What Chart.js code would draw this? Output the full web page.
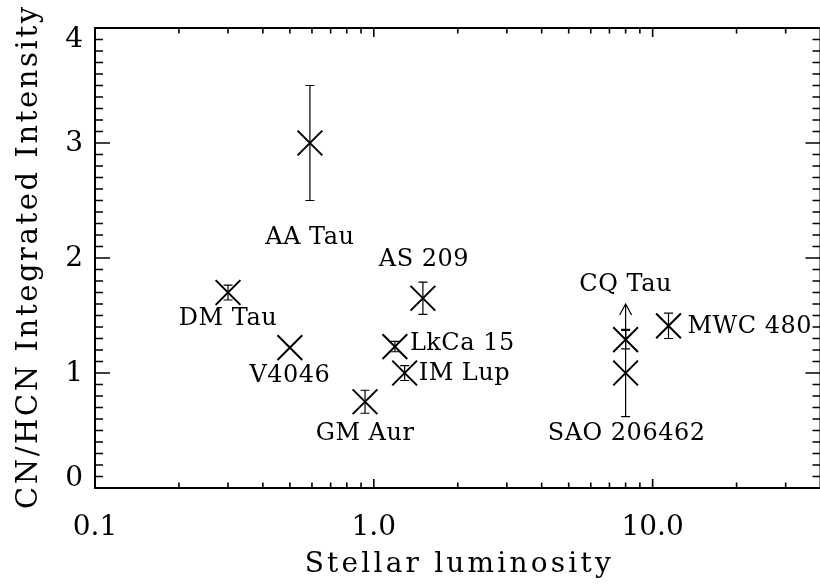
<!DOCTYPE html>
<html>
<head>
<meta charset="utf-8">
<script src="https://cdn.jsdelivr.net/npm/chart.js@4"></script>
<style>
  html, body { margin: 0; padding: 0; background: #fff; overflow: hidden; }
  #wrap { width: 840px; height: 586px; }
</style>
</head>
<body>
<div id="wrap"><canvas id="chart" width="840" height="586"></canvas></div>
<script>
// Sources
const sources    = ['DM Tau', 'V4046', 'AA Tau', 'GM Aur', 'LkCa 15', 'IM Lup', 'AS 209', 'SAO 206462', 'CQ Tau', 'MWC 480'];
const luminosity = [0.30, 0.50, 0.59, 0.93, 1.19, 1.29, 1.50, 8.0, 8.0, 11.4];
const cnHcn      = [1.70, 1.22, 3.00, 0.75, 1.23, 1.00, 1.65, 1.00, 1.29, 1.41];
const cnHcnErr   = [0.065, 0, 0.50, 0.10, 0.045, 0.065, 0.14, 0.38, 0.08, 0.11];
// lower limit arrow (CQ Tau)
const limitArrowTo = [null, null, null, null, null, null, null, null, 1.60, null];

const xTickValues = [0.1, 1, 10];
const xTickLabels = ['0.1', '1.0', '10.0'];
const xMinorTicks = [0.2, 0.3, 0.4, 0.5, 0.6, 0.7, 0.8, 0.9, 2, 3, 4, 5, 6, 7, 8, 9, 20, 30];
const yTickValues = [0, 1, 2, 3, 4];
const yTickLabels = ['0', '1', '2', '3', '4'];
const xTitle = 'Stellar luminosity';
const yTitle = 'CN/HCN Integrated Intensity';

// where each name sits relative to its marker (pixels)
const labelPlace = {
  'DM Tau':     { dx: 0,  dy: 26,  align: 'center' },
  'V4046':      { dx: 0,  dy: 28,  align: 'center' },
  'AA Tau':     { dx: 0,  dy: 95,  align: 'center' },
  'GM Aur':     { dx: 0,  dy: 32,  align: 'center' },
  'LkCa 15':    { dx: 15, dy: -3,  align: 'left' },
  'IM Lup':     { dx: 14, dy: 1,   align: 'left' },
  'AS 209':     { dx: 1,  dy: -38, align: 'center' },
  'SAO 206462': { dx: 1,  dy: 61,  align: 'center' },
  'CQ Tau':     { dx: 0,  dy: -55, align: 'center' },
  'MWC 480':    { dx: 19, dy: 1,   align: 'left' }
};

const serif = '"DejaVu Serif", "Liberation Serif", serif';

// box with inward ticks on all four sides, y labels and axis titles
const framePlugin = {
  id: 'frame',
  afterDraw(chart) {
    const { ctx, chartArea: a, scales: { x, y } } = chart;
    ctx.save();
    ctx.strokeStyle = '#000';
    ctx.lineWidth = 2;
    ctx.strokeRect(a.left, a.top, a.right - a.left, a.bottom - a.top);
    ctx.lineWidth = 1.6;
    ctx.beginPath();
    const xTick = (v, len) => {
      const px = x.getPixelForValue(v);
      ctx.moveTo(px, a.bottom); ctx.lineTo(px, a.bottom - len);
      ctx.moveTo(px, a.top);    ctx.lineTo(px, a.top + len);
    };
    xTickValues.forEach(v => xTick(v, 9));
    xMinorTicks.forEach(v => xTick(v, 5.5));
    for (let i = 0; i <= 40; i++) {
      const py = y.getPixelForValue(i / 10);
      const len = i % 10 === 0 ? 15 : 8;
      ctx.moveTo(a.left, py);  ctx.lineTo(a.left + len, py);
      ctx.moveTo(a.right, py); ctx.lineTo(a.right - len, py);
    }
    ctx.stroke();

    // y tick labels, kept inside the frame height like the original
    ctx.fillStyle = '#000';
    ctx.font = '28px ' + serif;
    ctx.textAlign = 'right';
    ctx.textBaseline = 'middle';
    yTickValues.forEach((v, i) => {
      let py = y.getPixelForValue(v);
      py = Math.min(Math.max(py, a.top + 11), a.bottom - 10);
      ctx.fillText(yTickLabels[i], a.left - 12, py + 1);
    });

    // axis titles with the wide spacing of the original lettering
    ctx.textAlign = 'center';
    ctx.letterSpacing = '3.2px';
    ctx.fillText(xTitle, (a.left + a.right) / 2 + 1.6, 565);
    ctx.translate(29, (a.top + a.bottom) / 2);
    ctx.rotate(-Math.PI / 2);
    ctx.font = '29px ' + serif;
    ctx.letterSpacing = '2.6px';
    ctx.fillText(yTitle, 1.3, 0);
    ctx.restore();
  }
};

// error bars, limit arrow and source names
const annotatePlugin = {
  id: 'annotate',
  afterDatasetsDraw(chart) {
    const { ctx, scales: { x, y } } = chart;
    ctx.save();
    ctx.strokeStyle = '#000';
    ctx.fillStyle = '#000';
    ctx.lineWidth = 1.2;
    sources.forEach((name, i) => {
      const px = x.getPixelForValue(luminosity[i]);
      const py = y.getPixelForValue(cnHcn[i]);
      if (cnHcnErr[i] > 0) {
        const top = y.getPixelForValue(cnHcn[i] + cnHcnErr[i]);
        const bot = y.getPixelForValue(cnHcn[i] - cnHcnErr[i]);
        ctx.beginPath();
        ctx.moveTo(px, top); ctx.lineTo(px, bot);
        ctx.moveTo(px - 4.5, top); ctx.lineTo(px + 4.5, top);
        ctx.moveTo(px - 4.5, bot); ctx.lineTo(px + 4.5, bot);
        ctx.stroke();
      }
      if (limitArrowTo[i] !== null) {
        const tip = y.getPixelForValue(limitArrowTo[i]);
        ctx.beginPath();
        ctx.moveTo(px, py); ctx.lineTo(px, tip);
        ctx.moveTo(px - 6, tip + 11); ctx.lineTo(px, tip); ctx.lineTo(px + 6, tip + 11);
        ctx.stroke();
      }
      const p = labelPlace[name];
      ctx.font = '24px ' + serif;
      ctx.letterSpacing = '0.5px';
      ctx.textAlign = p.align;
      ctx.textBaseline = 'middle';
      ctx.fillText(name, px + p.dx, py + p.dy);
    });
    ctx.restore();
  }
};

new Chart(document.getElementById('chart'), {
  type: 'scatter',
  data: {
    datasets: [{
      data: luminosity.map((l, i) => ({ x: l, y: cnHcn[i] })),
      pointStyle: 'crossRot',
      pointRadius: 17.5,
      borderColor: '#000',
      backgroundColor: '#000',
      borderWidth: 2,
      showLine: false
    }]
  },
  options: {
    responsive: false,
    animation: false,
    events: [],
    layout: { padding: { top: 28, right: 14, left: 0, bottom: 0 } },
    plugins: { legend: { display: false }, tooltip: { enabled: false } },
    scales: {
      x: {
        type: 'logarithmic',
        min: 0.1,
        max: 40,
        afterFit: s => { s.height = 98; },
        afterBuildTicks: s => { s.ticks = xTickValues.map(v => ({ value: v })); },
        grid: { display: false, drawTicks: false },
        border: { display: false },
        ticks: {
          callback: (v, i) => xTickLabels[i],
          font: { family: serif, size: 28 },
          color: '#000',
          padding: 23,
          maxRotation: 0,
          autoSkip: false
        }
      },
      y: {
        type: 'linear',
        min: 0,
        max: 4,
        afterFit: s => { s.width = 95; },
        afterBuildTicks: s => { s.ticks = yTickValues.map(v => ({ value: v })); },
        grid: { display: false, drawTicks: false },
        border: { display: false },
        ticks: { display: false }
      }
    }
  },
  plugins: [framePlugin, annotatePlugin]
});
</script>
</body>
</html>
